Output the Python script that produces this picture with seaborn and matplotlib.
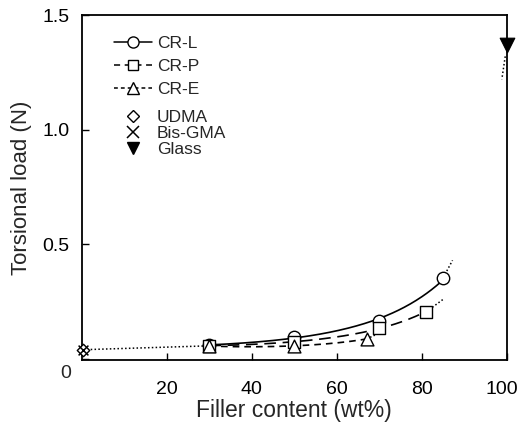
import matplotlib
matplotlib.use("Agg")
import matplotlib.pyplot as plt
from matplotlib.lines import Line2D
import matplotlib.transforms as mtransforms
import seaborn as sns
import numpy as np

sns.set_style("ticks")
plt.rcParams['font.family'] = ['Liberation Sans', 'DejaVu Sans']

# data
crl_x = [30, 50, 70, 85]
crl_y = [0.060, 0.096, 0.166, 0.354]
crp_x = [30, 50, 70, 81]
crp_y = [0.058, 0.074, 0.135, 0.205]
cre_x = [30, 50, 67]
cre_y = [0.056, 0.057, 0.087]
udma_x = [0.3]
udma_y = [0.040]
bis_x = [0.3]
bis_y = [0.040]
glass_x = [100]
glass_y = [1.37]

# dotted extrapolations / connections
link_x = [0.3, 30]
link_y = [0.040, 0.057]
crl_ext_x = [85, 87.2]
crl_ext_y = [0.354, 0.43]
crp_ext_x = [81, 85]
crp_ext_y = [0.205, 0.26]
cre_ext_x = [67, 70.8]
cre_ext_y = [0.087, 0.12]
glass_ext_x = [99.6, 98.8]
glass_ext_y = [1.32, 1.22]

xticks = [20, 40, 60, 80, 100]
yticks = [0, 0.5, 1.0, 1.5]
ytick_labels = ["", "0.5", "1.0", "1.5"]

fig = plt.figure(figsize=(5.21, 4.33), dpi=100)
ax = fig.add_axes([0.157, 0.168, 0.816, 0.797])

k = "black"


def fit_curve(xs, ys, order, **kw):
    # exponential-type trend line: polynomial fit of log(load)
    coef = np.polyfit(xs, np.log(ys), order)
    gx = np.linspace(min(xs), max(xs), 200)
    sns.lineplot(x=gx, y=np.exp(np.polyval(coef, gx)), color=k, lw=1.2,
                 ax=ax, **kw)


fit_curve(crl_x, crl_y, 2, ls="-")
fit_curve(crp_x, crp_y, 2, ls=(0, (7, 4)))
fit_curve(cre_x, cre_y, 2, ls=(0, (4, 3)))

dot = dict(color=k, lw=1.1, ls=(0, (1, 1.5)), sort=False, estimator=None)
for xx, yy in [(link_x, link_y), (crl_ext_x, crl_ext_y), (crp_ext_x, crp_ext_y),
               (cre_ext_x, cre_ext_y), (glass_ext_x, glass_ext_y)]:
    sns.lineplot(x=xx, y=yy, ax=ax, **dot)

mk = dict(facecolor="white", edgecolor=k, linewidth=1.0, zorder=5, clip_on=False)
sns.scatterplot(x=crl_x, y=crl_y, marker="o", s=80, ax=ax, **mk)
sns.scatterplot(x=crp_x, y=crp_y, marker="s", s=75, ax=ax, **mk)
sns.scatterplot(x=cre_x, y=cre_y, marker="^", s=85, ax=ax, **mk)
sns.scatterplot(x=udma_x, y=udma_y, marker="D", s=40, ax=ax, **mk)
sns.scatterplot(x=bis_x, y=bis_y, marker="x", s=50, color=k, linewidth=1.1,
                zorder=6, clip_on=False, ax=ax)
sns.scatterplot(x=glass_x, y=glass_y, marker="v", s=110, color=k,
                edgecolor=k, zorder=6, clip_on=False, ax=ax)

ax.set_xlim(0, 100)
ax.set_ylim(-0.006, 1.5)
ax.set_xticks(xticks)
ax.set_xticklabels([str(v) for v in xticks])
ax.set_yticks(yticks)
ax.set_yticklabels(ytick_labels)
ax.tick_params(direction="in", length=5, width=1, labelsize=14, colors=k)
ax.tick_params(axis="x", pad=15)
ax.tick_params(axis="y", pad=9)
# last x label sits a little left of its tick, as in the original
lab = ax.get_xticklabels()[-1]
lab.set_transform(lab.get_transform() +
                  mtransforms.ScaledTranslation(-5 / 100, 0, fig.dpi_scale_trans))
for sp in ax.spines.values():
    sp.set_linewidth(1.3)
    sp.set_color(k)
ax.text(-0.024, -0.038, "0", transform=ax.transAxes, fontsize=14,
        ha="right", va="center")

ax.set_xlabel("Filler content (wt%)", fontsize=16.5, labelpad=1)
ax.set_ylabel("Torsional load (N)", fontsize=16, labelpad=7)

h1 = [
    Line2D([], [], color=k, lw=1.1, ls="-", marker="o", mfc="white", mec=k, ms=8),
    Line2D([], [], color=k, lw=1.1, ls=(0, (4, 3)), marker="s", mfc="white", mec=k, ms=7),
    Line2D([], [], color=k, lw=1.1, ls=(0, (2.5, 2)), marker="^", mfc="white", mec=k, ms=8),
]
l1 = ax.legend(h1, ["CR-L", "CR-P", "CR-E"], loc="upper left",
               bbox_to_anchor=(0.076, 0.94), frameon=False, fontsize=12.5,
               handlelength=2.2, handletextpad=0.25, labelspacing=0.45,
               borderaxespad=0, borderpad=0)
ax.add_artist(l1)
h2 = [
    Line2D([], [], ls="none", marker="D", mfc="white", mec=k, ms=6),
    Line2D([], [], ls="none", marker="x", color=k, ms=8, mew=1.1),
    Line2D([], [], ls="none", marker="v", color=k, ms=9),
]
ax.legend(h2, ["UDMA", "Bis-GMA", "Glass"], loc="upper left",
          bbox_to_anchor=(0.076, 0.726), frameon=False, fontsize=12.5,
          handlelength=2.2, handletextpad=0.25, labelspacing=0.05,
          borderaxespad=0, borderpad=0)

fig.savefig("out.png", dpi=100)
